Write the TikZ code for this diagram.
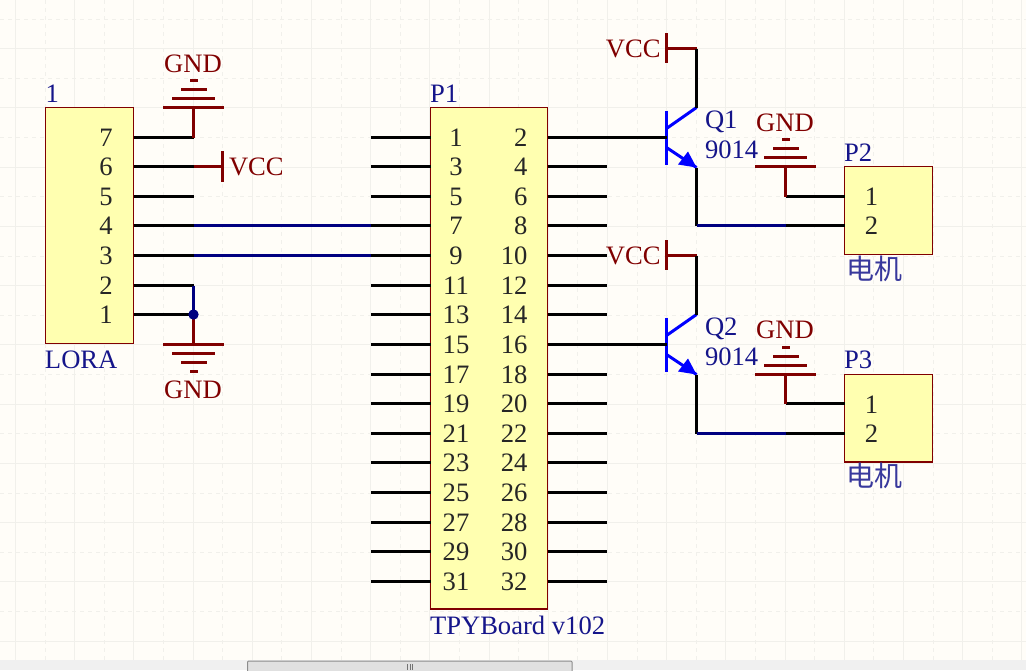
\documentclass[tikz,border=0pt]{standalone}
\usepackage{fontspec}
\setmainfont{Liberation Serif}
\newfontfamily\cjkf{Noto Sans CJK SC}
\definecolor{bgc}{HTML}{FFFDF8}
\definecolor{gridc}{HTML}{F1F0EB}
\definecolor{sred}{HTML}{800000}
\definecolor{snavy}{HTML}{000080}
\definecolor{sblue}{HTML}{0000FF}
\definecolor{boxc}{HTML}{FFFFB0}
\definecolor{txtb}{HTML}{15158A}
\tikzset{
 x=1pt,y=-1pt,
 lbl/.style={inner sep=0pt,outer sep=0pt,font=\fontsize{26.6}{28}\selectfont},
 rtxt/.style={lbl,text=sred,anchor=base},
 btxt/.style={lbl,text=txtb,anchor=base west},
 ntxt/.style={lbl,text=black!85,anchor=base},
 cjktxt/.style={inner sep=0pt,outer sep=0pt,font=\fontsize{28}{29}\selectfont\cjkf,text=txtb!85!white,anchor=base west},
 partbox/.style={draw=sred,fill=boxc,line width=1.2pt,inner sep=0pt,outer sep=0pt,anchor=north west},
 pin/.style={draw=black,line width=3pt},
 netw/.style={draw=snavy,line width=3pt},
 pwr/.style={draw=sred,line width=3pt},
 bar/.style={draw=sred,line width=3pt},
 trans/.style={draw=sblue,line width=3pt},
 gridsolid/.style={draw=gridc,line width=1pt},
 griddash/.style={draw=gridc,line width=1pt,dash pattern=on 4pt off 4pt},
}
% GND symbol: #1 name, (#2,#3) top bar centre, #4 = direction (+1 bars go down, -1 bars go up)
\newcommand{\gndsym}[4]{%
 \coordinate (#1) at (#2,#3);
 \draw[bar] (#2-30.5,#3) -- (#2+30.5,#3);
 \draw[bar] (#2-21.5,#3+#4*9) -- (#2+21.5,#3+#4*9);
 \draw[bar] (#2-12.5,#3+#4*18) -- (#2+13,#3+#4*18);
 \draw[bar] (#2-3.5,#3+#4*27) -- (#2+4,#3+#4*27);
}
% Transistor: #1 name, #2 y of base
\newcommand{\npn}[2]{%
 \coordinate (#1b) at (666.5,#2);
 \coordinate (#1c) at (696.5,#2-30);
 \coordinate (#1e) at (696.5,#2+30);
 \draw[trans] (666.5,#2-27) -- (666.5,#2+27);
 \draw[trans] (666.5,#2-9) -- (#1c);
 \draw[trans] (666.5,#2+10) -- (#1e);
 \fill[sblue] (#1e) -- (678,#2+27) -- (688,#2+14) -- cycle;
}
\begin{document}
\begin{tikzpicture}
\useasboundingbox (0,0) rectangle (1026,670);
\fill[bgc] (0,0) rectangle (1026,670);
% grid
\foreach \k in {0,...,17}{
 \draw[gridsolid] ({15.5+59.2*\k},0) -- ({15.5+59.2*\k},660);
 \draw[griddash] ({45+59.2*\k},0) -- ({45+59.2*\k},660);
}
\foreach \k in {0,...,10}{
 \draw[gridsolid] (0,{48.5+59.25*\k}) -- (1026,{48.5+59.25*\k});
 \draw[griddash] (0,{19+59.25*\k}) -- (1026,{19+59.25*\k});
}
% scroll bar
\fill[black!6] (0,660) rectangle (1026,670);
\draw[black!45,line width=1pt,fill=black!12,rounded corners=1pt] (247.5,671) -- (247.5,661) -- (572,661) -- (572,671);
\foreach \x in {407.5,410,412.5}{\draw[black!55,line width=1pt] (\x,664) -- (\x,670);}
% boxes
\node[partbox,minimum width=88pt,minimum height=236pt] (lora) at (45.5,107.5) {};
\node[partbox,minimum width=117pt,minimum height=501.5pt] (pone) at (430.5,107.5) {};
\node[partbox,minimum width=88pt,minimum height=88pt] (ptwo) at (844.5,166.5) {};
\node[partbox,minimum width=88pt,minimum height=87.5pt] (pthree) at (844.5,374.5) {};
% LORA pins
\foreach \n/\y in {7/137.5,6/166.5,5/196.5,4/225.5,3/255.5,2/285.5,1/314.5}{
 \coordinate (La\n) at (133.5,\y);
 \coordinate (Lb\n) at (193.5,\y);
 \draw[pin] (La\n) -- (Lb\n);
 \node[ntxt] at (106,\y+9.3) {\n};
}
% P1 pins
\foreach \k/\yy in {0/137.5,1/166.5,2/196.5,3/225.5,4/255.5,5/285.5,6/314.5,7/344.5,8/374.5,9/403.5,10/433.5,11/462.5,12/492.5,13/522.5,14/551.5,15/581.5}{
 \pgfmathtruncatemacro{\nl}{2*\k+1}
 \pgfmathtruncatemacro{\nr}{2*\k+2}
 \coordinate (Pl\nl) at (371,\yy);
 \coordinate (Pa\nl) at (430.5,\yy);
 \coordinate (Pb\nr) at (547.5,\yy);
 \coordinate (Pr\nr) at (607,\yy);
 \draw[pin] (Pl\nl) -- (Pa\nl);
 \draw[pin] (Pb\nr) -- (Pr\nr);
 \node[ntxt] at (456,\yy+9.3) {\nl};
 \node[lbl,text=black!85,anchor=base east] at (527.5,\yy+9.3) {\nr};
}
% LORA power and nets
\gndsym{g1}{193.5}{107.5}{-1}
\draw[pwr] (g1) -- (Lb7);
\coordinate (v1) at (222.5,166.5);
\draw[pwr] (Lb6) -- (v1);
\draw[bar] (222.5,151) -- (222.5,182);
\draw[netw] (Lb4) -- (Pl7);
\draw[netw] (Lb3) -- (Pl9);
\draw[netw] (Lb2) -- (Lb1);
\gndsym{g2}{193.5}{344.5}{1}
\draw[pwr] (Lb1) -- (g2);
\fill[snavy] (Lb1) circle (5.2);
% Q1
\npn{q1}{137.5}
\coordinate (v2) at (666.5,48.5);
\coordinate (v2t) at (696.5,48.5);
\draw[bar] (666.5,33) -- (666.5,63);
\draw[pwr] (v2) -- (v2t);
\draw[pin] (v2t) -- (q1c);
\draw[pin] (Pr2) -- (q1b);
\coordinate (j1) at (696.5,225.5);
\coordinate (j1b) at (785.5,225.5);
\coordinate (m1) at (845,225.5);
\coordinate (s1) at (785.5,196.5);
\coordinate (m1a) at (845,196.5);
\draw[pin] (q1e) -- (j1);
\draw[pin] (j1b) -- (m1);
\draw[netw] (j1) -- (j1b);
\draw[pin] (s1) -- (m1a);
\gndsym{g3}{785.5}{166.5}{-1}
\draw[pwr] (g3) -- (s1);
% Q2
\npn{q2}{344.5}
\coordinate (v3) at (666.5,255.5);
\coordinate (v3t) at (696.5,255.5);
\draw[bar] (666.5,240) -- (666.5,270);
\draw[pwr] (v3) -- (v3t);
\draw[pin] (v3t) -- (q2c);
\draw[pin] (Pr16) -- (q2b);
\coordinate (j2) at (696.5,433.5);
\coordinate (j2b) at (785.5,433.5);
\coordinate (m2) at (845,433.5);
\coordinate (s2) at (785.5,403.5);
\coordinate (m2a) at (845,403.5);
\draw[pin] (q2e) -- (j2);
\draw[pin] (j2b) -- (m2);
\draw[netw] (j2) -- (j2b);
\draw[pin] (s2) -- (m2a);
\gndsym{g4}{785.5}{374.5}{-1}
\draw[pwr] (g4) -- (s2);
% labels
\node[btxt] (t1) at (45.5,102) {1};
\node[btxt] (t2) at (45,368) {LORA};
\node[btxt] (t3) at (430,102) {P1};
\node[btxt] (t4) at (430,634) {TPYBoard v102};
\node[rtxt] (t5) at (193,72) {GND};
\node[rtxt] (t6) at (193,398) {GND};
\node[rtxt,anchor=base west] (t7) at (229,175) {VCC};
\node[rtxt,anchor=base east] (t8) at (660.5,57) {VCC};
\node[rtxt,anchor=base east] (t9) at (660.5,264) {VCC};
\node[btxt] (t10) at (705,128) {Q1};
\node[btxt] (t11) at (705,158) {9014};
\node[btxt] (t12) at (705,335) {Q2};
\node[btxt] (t13) at (705,365) {9014};
\node[rtxt] (t14) at (785,131) {GND};
\node[rtxt] (t15) at (785,338) {GND};
\node[btxt] (t16) at (844,161) {P2};
\node[btxt] (t17) at (844,368) {P3};
\node[ntxt] (t18) at (871.5,205) {1};
\node[ntxt] (t19) at (871.5,234) {2};
\node[ntxt] (t20) at (871.5,413) {1};
\node[ntxt] (t21) at (871.5,442) {2};
\node[cjktxt] (t22) at (846,279) {电机};
\node[cjktxt] (t23) at (846,486) {电机};
\end{tikzpicture}
\end{document}
